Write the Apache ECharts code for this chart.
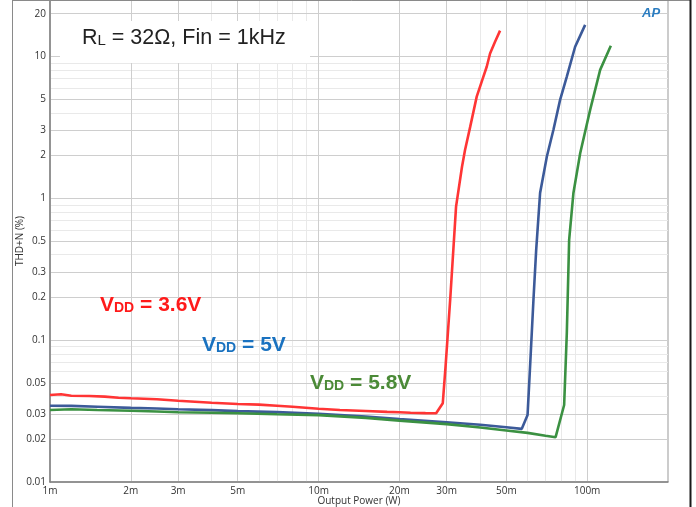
<!DOCTYPE html>
<html><head><meta charset="utf-8">
<script src="https://cdn.jsdelivr.net/npm/echarts@6/dist/echarts.min.js"></script>
<style>html,body{margin:0;padding:0;background:#fff}#c{width:696px;height:507px}</style>
</head><body><div id="c"></div>
<script>
// ---- data (Output Power in W, THD+N in %) ----
const red36P = [0.001,0.0011,0.0012,0.0014,0.0016,0.0018,0.002,0.0025,0.003,0.004,0.005,0.006,0.007,0.008,0.01,0.012,0.015,0.018,0.02,0.022,0.025,0.0274,0.029,0.0297,0.0309,0.0325,0.0342,0.0351,0.0367,0.0388,0.0405,0.0423,0.0435,0.0454,0.0474];
const red36T = [0.0410,0.0416,0.0406,0.0404,0.0400,0.0393,0.0389,0.0383,0.0374,0.0362,0.0355,0.0351,0.0345,0.0339,0.0328,0.0322,0.0317,0.0312,0.0310,0.0308,0.0306,0.0305,0.0359,0.065,0.192,0.874,1.67,2.19,3.2,5.21,6.65,8.49,10.5,12.7,15.2];
const blue5P = [0.001,0.0012,0.0015,0.002,0.0025,0.003,0.004,0.005,0.007,0.01,0.015,0.02,0.03,0.04,0.05,0.0571,0.06,0.0613,0.0631,0.0646,0.0668,0.0708,0.0749,0.0793,0.084,0.0902,0.0983];
const blue5T = [0.0345,0.0344,0.0339,0.0333,0.0330,0.0326,0.0321,0.0316,0.0311,0.0302,0.0289,0.0278,0.0264,0.0253,0.0243,0.0237,0.0297,0.065,0.192,0.433,1.09,1.97,3.04,4.94,7.21,11.7,16.7];
const green58P = [0.001,0.0012,0.0015,0.002,0.0025,0.003,0.004,0.005,0.007,0.01,0.015,0.02,0.03,0.04,0.05,0.06,0.07,0.0763,0.0821,0.084,0.0857,0.0889,0.0942,0.1026,0.1118,0.1225];
const green58T = [0.0322,0.0326,0.0322,0.0318,0.0314,0.0310,0.0308,0.0305,0.0300,0.0296,0.0283,0.0271,0.0256,0.0242,0.0231,0.0222,0.0212,0.0207,0.0349,0.112,0.509,1.09,2.08,4.2,8.04,11.9];

const xRange = [0.001, 0.2];
const yRange = [0.01, 25];
const xTicks = [0.001,0.002,0.003,0.005,0.01,0.02,0.03,0.05,0.1];
const xTickLabels = ['1m','2m','3m','5m','10m','20m','30m','50m','100m'];
const xMinor = [0.004,0.006,0.007,0.008,0.009,0.04,0.06,0.07,0.08,0.09];
const yTicks = [0.01,0.02,0.03,0.05,0.1,0.2,0.3,0.5,1,2,3,5,10,20];
const yTickLabels = ['0.01','0.02','0.03','0.05','0.1','0.2','0.3','0.5','1','2','3','5','10','20'];
const yMinor = [0.04,0.06,0.07,0.08,0.09,0.4,0.6,0.7,0.8,0.9,4,6,7,8,9];

// ---- chart ----
const L = Math.log10;
const pts = (P, T) => P.map((p, i) => [L(p), L(T[i])]);
const fmt = (ticks, labels) => v => {
  const i = ticks.findIndex(t => Math.abs(L(t) - v) < 1e-6);
  return i >= 0 ? labels[i] : '';
};
const tickFont = {color:'#333', fontSize:10, fontFamily:'Open Sans, sans-serif'};
const chart = echarts.init(document.getElementById('c'));
const serie = (name, d, color) => ({
  name, type:'line', data:d, showSymbol:false, symbol:'none', xAxisIndex:0, yAxisIndex:0,
  lineStyle:{color, width:2.6}, itemStyle:{color}, animation:false, z:3
});
const sub = (color) => ({
  v:{fontSize:21, lineHeight:24, fontWeight:'bold', fontFamily:'Liberation Sans, Arial', fill:color},
  d:{fontSize:14, lineHeight:16, verticalAlign:'bottom', padding:[0,0,2,0], fontWeight:'bold', fontFamily:'Liberation Sans, Arial', fill:color}
});
chart.setOption({
  animation:false,
  grid:{left:50, right:28, top:0, bottom:25, show:true, borderColor:'#999', borderWidth:1,
        containLabel:false, outerBoundsMode:'none'},
  xAxis:[
    {type:'value', min:L(xRange[0]), max:L(xRange[1]), z:1,
     axisLine:{show:true, onZero:false, lineStyle:{color:'#808080', width:1.5}},
     axisTick:{show:false, customValues:xTicks.map(L)},
     axisLabel:Object.assign({customValues:xTicks.map(L), formatter:fmt(xTicks, xTickLabels), margin:4, showMinLabel:true, showMaxLabel:true}, tickFont),
     splitLine:{show:true, lineStyle:{color:'#cecece', width:1}},
     name:'Output Power (W)', nameLocation:'middle', nameGap:14, nameMoveOverlap:false,
     nameTextStyle:{color:'#333', fontSize:10, fontFamily:'Open Sans, sans-serif'}},
    {type:'value', min:L(xRange[0]), max:L(xRange[1]), position:'bottom', z:0,
     axisLine:{show:false}, axisLabel:{show:false},
     axisTick:{show:false, customValues:xMinor.map(L)},
     splitLine:{show:true, lineStyle:{color:'#e9e9e9', width:1}}}
  ],
  yAxis:[
    {type:'value', min:L(yRange[0]), max:L(yRange[1]), z:1,
     axisLine:{show:true, onZero:false, lineStyle:{color:'#808080', width:1.5}},
     axisTick:{show:false, customValues:yTicks.map(L)},
     axisLabel:Object.assign({customValues:yTicks.map(L), formatter:fmt(yTicks, yTickLabels), margin:4, showMinLabel:true}, tickFont),
     splitLine:{show:true, lineStyle:{color:'#cecece', width:1}},
     name:'THD+N (%)', nameLocation:'middle', nameGap:25, nameMoveOverlap:false,
     nameTextStyle:{color:'#333', fontSize:10, fontFamily:'Open Sans, sans-serif'}},
    {type:'value', min:L(yRange[0]), max:L(yRange[1]), position:'left', z:0,
     axisLine:{show:false}, axisLabel:{show:false},
     axisTick:{show:false, customValues:yMinor.map(L)},
     splitLine:{show:true, lineStyle:{color:'#e9e9e9', width:1}}}
  ],
  series:[
    serie('VDD = 3.6V', pts(red36P, red36T), '#ff3535'),
    serie('VDD = 5V', pts(blue5P, blue5T), '#3c5a99'),
    serie('VDD = 5.8V', pts(green58P, green58T), '#3b9142')
  ],
  graphic:[
    {type:'line', z:10, silent:true, shape:{x1:12.5,y1:0,x2:12.5,y2:507}, style:{stroke:'#8a8a8a', lineWidth:1}},
    {type:'line', z:10, silent:true, shape:{x1:12,y1:0.5,x2:691,y2:0.5}, style:{stroke:'#8a8a8a', lineWidth:1}},
    {type:'line', z:10, silent:true, shape:{x1:690.5,y1:0,x2:690.5,y2:507}, style:{stroke:'#1a1a1a', lineWidth:2}},
    {type:'rect', z:1.5, silent:true, shape:{x:60, y:21, width:250, height:42}, style:{fill:'#fff'}},
    {type:'text', z:12, left:82, top:27, silent:true, style:{
      text:'{r|R}{s|L}{r| = 32Ω, Fin = 1kHz}', fill:'#222',
      rich:{r:{fontSize:21.5, lineHeight:26, fontFamily:'Liberation Sans, Arial', fill:'#222'},
            s:{fontSize:15, lineHeight:17, verticalAlign:'bottom', padding:[0,0,3,0], fontFamily:'Liberation Sans, Arial', fill:'#222'}}}},
    {type:'text', z:12, left:100, top:295, silent:true, style:{text:'{v|V}{d|DD}{v| = 3.6V}', rich:sub('#ff1a1a')}},
    {type:'text', z:12, left:202, top:335, silent:true, style:{text:'{v|V}{d|DD}{v| = 5V}', rich:sub('#1a72c0')}},
    {type:'text', z:12, left:310, top:373, silent:true, style:{text:'{v|V}{d|DD}{v| = 5.8V}', rich:sub('#4b8a37')}},
    {type:'text', z:12, left:642, top:7, silent:true, style:{
      text:'AP', fontSize:13, fontStyle:'italic', fontWeight:'bold', fontFamily:'Liberation Sans, Arial', fill:'#2a7cc0'}}
  ]
});
</script>
</body></html>
